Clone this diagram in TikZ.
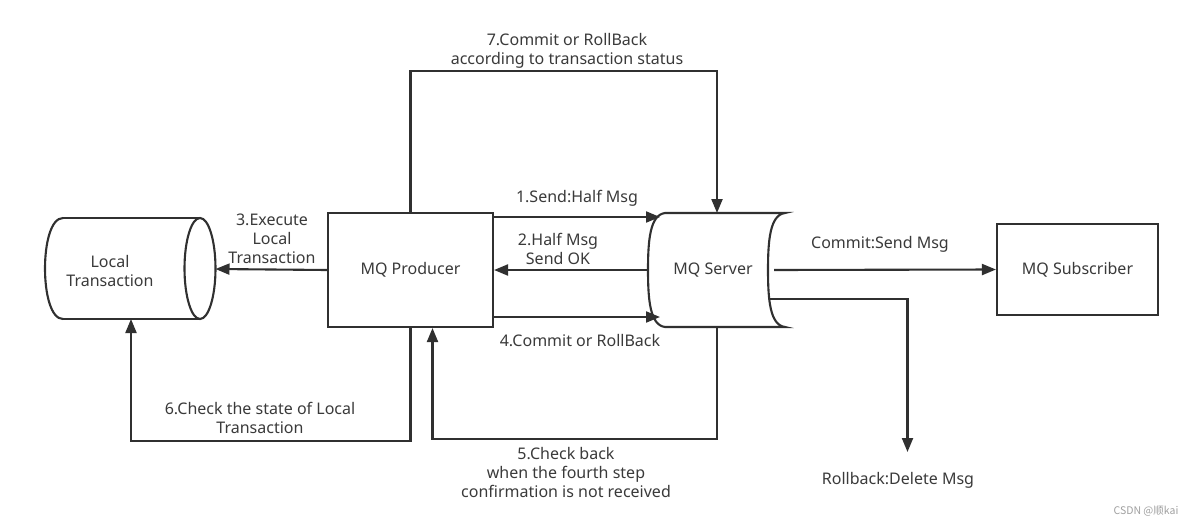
\documentclass[tikz,border=0pt]{standalone}
\usepackage{fontspec}
\setmainfont{Noto Sans}
\newfontfamily\cjk{Noto Sans CJK SC}
\usetikzlibrary{arrows.meta}
\definecolor{ln}{HTML}{303030}
\definecolor{tx}{HTML}{3A3A3A}
\definecolor{wm}{HTML}{A0A0A0}
\begin{document}
\begin{tikzpicture}[x=1pt,y=-1pt,
  line/.style={draw=ln,line width=2.1pt},
  arr/.style={line,-{Triangle[length=14pt,width=11pt]}},
  lbl/.style={text=tx,font=\fontsize{16}{19}\selectfont,align=center,inner sep=0pt},
  boxn/.style={draw=ln,line width=2.1pt,fill=white,rectangle,inner sep=0pt,
    text=tx,font=\fontsize{16}{19}\selectfont,align=center}]
\fill[white] (0,0) rectangle (1194,525);
\useasboundingbox (0,0) rectangle (1194,525);

% boxes
\node[boxn,minimum width=165pt,minimum height=114pt] (prod) at (410.5,270) {MQ Producer};
\node[boxn,minimum width=161pt,minimum height=91pt] (sub) at (1077.5,269.5) {MQ Subscriber};

% local transaction cylinder
\draw[line] (63,218) -- (200,218) (63,319) -- (200,319);
\draw[line] (63,218) .. controls (51,218) and (45,243) .. (45,268.5)
  .. controls (45,294) and (51,319) .. (63,319);
\draw[line] (200,268.5) ellipse [x radius=15.5pt, y radius=50.5pt];
\node[lbl] (loc) at (110,270.5) {Local\\Transaction};
\coordinate (locE) at (215.5,269);
\coordinate (locB) at (131,319);

% MQ server shape
\draw[line] (665,213) -- (785,213)
  .. controls (770,215) and (768,240) .. (768,270)
  .. controls (768,300) and (770,325) .. (785,327)
  -- (665,327)
  .. controls (650,325) and (648,300) .. (648,270)
  .. controls (648,240) and (650,215) .. (665,213) -- cycle;
\node[lbl] (srv) at (713,270) {MQ Server};
\coordinate (srvW) at (648,270);
\coordinate (srvA) at (660,217);
\coordinate (srvD) at (660,317);
\coordinate (srvT) at (717,213);
\coordinate (srvB) at (717,327);
\coordinate (srvR) at (774,270);
\coordinate (srvRB) at (770,299);
\coordinate (rbEnd) at (907.5,452);

% connectors
\draw[arr] ([yshift=53pt]prod.east) -- (srvA);
\draw[arr] (srvW) -- (prod.east);
\draw[arr] ([yshift=-47pt]prod.east) -- (srvD);
\draw[arr] (prod.west) -- (locE);
\draw[arr] (prod.north) -- ++(0,-141) -| (srvT);
\draw[arr] (srvB) -- ++(0,112) -| ([xshift=22pt]prod.south);
\draw[arr] (prod.south) -- ++(0,113) -| (locB);
\draw[arr] (srvR) -- (sub.west);
\draw[arr] (srvRB) -| (rbEnd);

% labels
\node[lbl] (l1) at (577,198) {1.Send:Half Msg};
\node[lbl] (l2) at (558,248.5) {2.Half Msg\\Send OK};
\node[lbl] (l3) at (272,238.5) {3.Execute\\Local\\Transaction};
\node[lbl] (l4) at (580,341) {4.Commit or RollBack};
\node[lbl] (l5) at (566,472.5) {5.Check back\\when the fourth step\\confirmation is not received};
\node[lbl] (l6) at (260,417.5) {6.Check the state of Local\\Transaction};
\node[lbl] (l7) at (567,50.5) {7.Commit or RollBack\\according to transaction status};
\node[lbl] (lc) at (880,244) {Commit:Send Msg};
\node[lbl] (lr) at (898,480) {Rollback:Delete Msg};
\node[text=wm,font=\cjk\fontsize{10.5}{12}\selectfont,inner sep=0pt] (wm) at (1146,511) {CSDN @顺kai};
\end{tikzpicture}
\end{document}
